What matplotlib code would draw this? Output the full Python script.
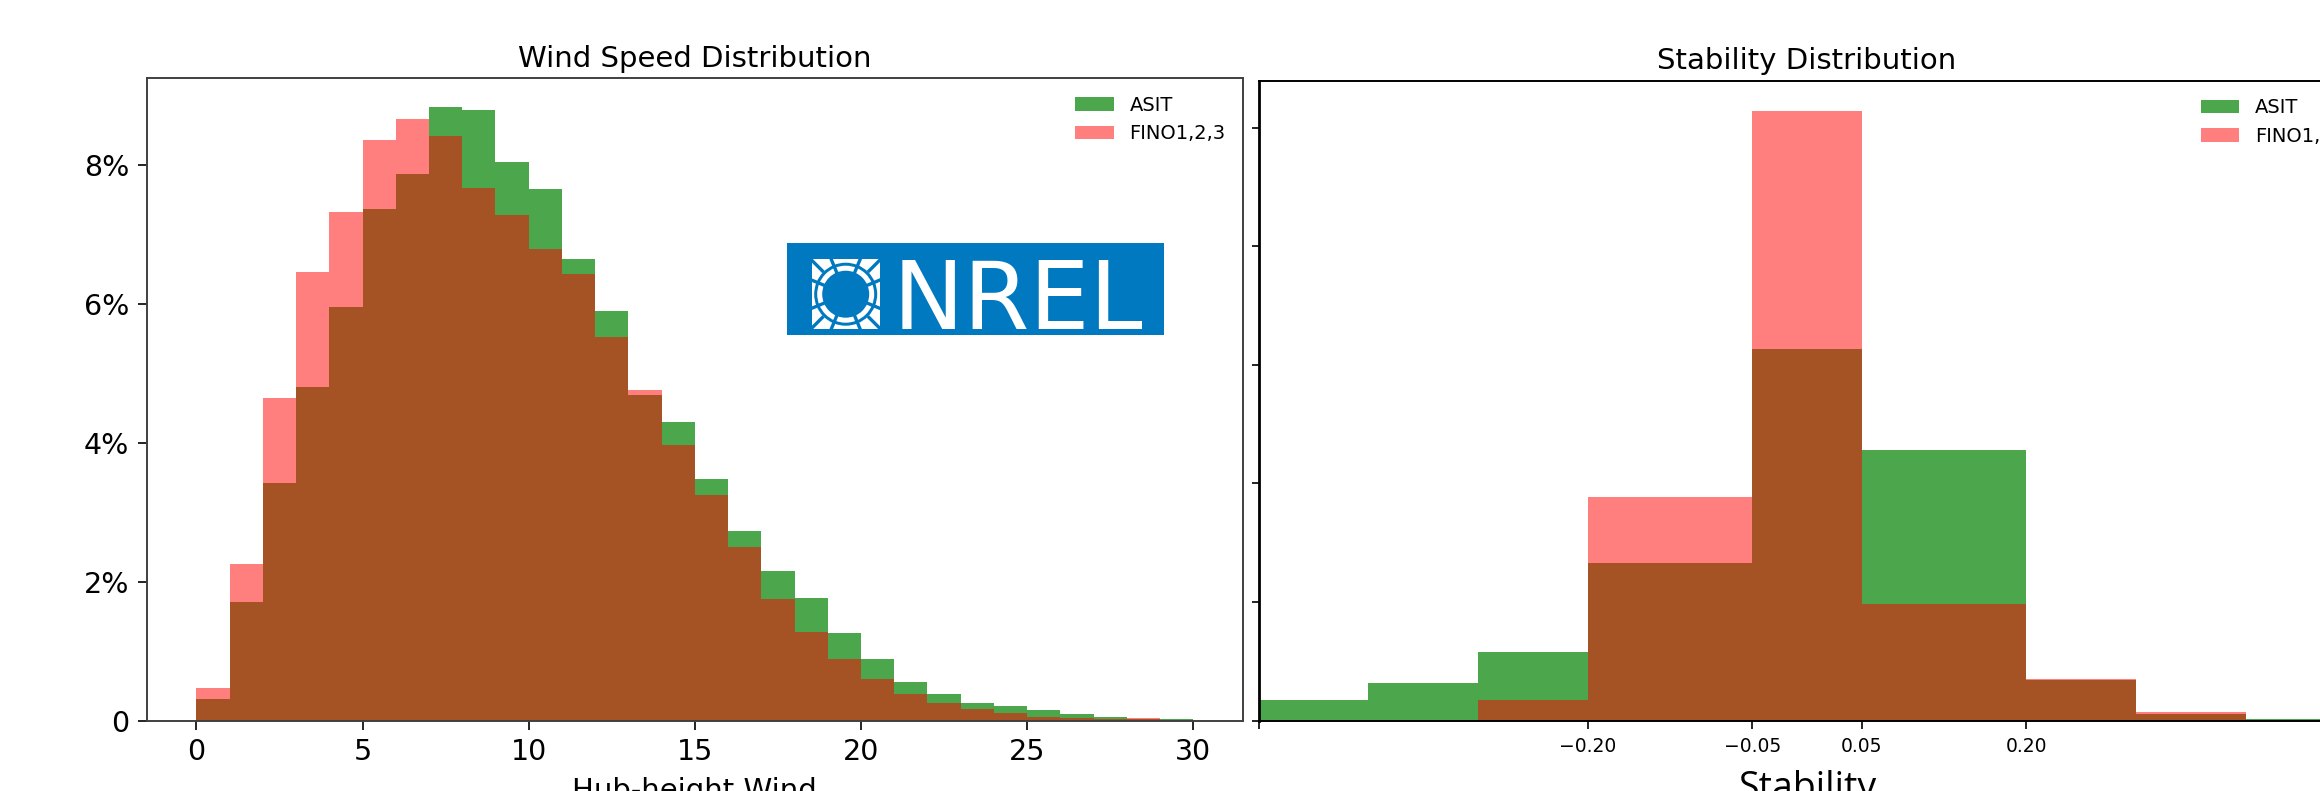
import matplotlib
matplotlib.use('Agg')
import matplotlib.pyplot as plt
import numpy as np
from matplotlib.ticker import FuncFormatter
from matplotlib.patches import Rectangle, Circle

plt.rcParams['font.family'] = ['DejaVu Sans']

#--------------------------------------------------------------------------
# data
#--------------------------------------------------------------------------

# hub-height wind speed, share of records (%) in 1 m/s bins
wind_edges = list(range(0, 31))
asit_wind = [0.318, 1.710, 3.420, 4.811, 5.953, 7.364, 7.875, 8.836, 8.793, 8.037,
             7.651, 6.646, 5.897, 4.693, 4.300, 3.488, 2.733, 2.153, 1.766, 1.261,
             0.892, 0.562, 0.381, 0.256, 0.212, 0.156, 0.094, 0.056, 0.025, 0.025]
fino_wind = [0.468, 2.259, 4.649, 6.459, 7.326, 8.362, 8.668, 8.424, 7.669, 7.282,
             6.789, 6.427, 5.523, 4.768, 3.975, 3.245, 2.502, 1.747, 1.279, 0.892,
             0.605, 0.387, 0.256, 0.168, 0.106, 0.062, 0.037, 0.031, 0.040, 0.010]

# stability, density per bin
stab_edges = [-0.5, -0.4, -0.3, -0.2, -0.05, 0.05, 0.2, 0.3, 0.4, 0.5]
asit_stab = [0.170, 0.315, 0.579, 1.328, 3.129, 2.282, 0.341, 0.059, 0.017]
fino_stab = [0.0, 0.0, 0.170, 1.886, 5.139, 0.983, 0.349, 0.068, 0.0]
stab_ticks = [-0.5, -0.2, -0.05, 0.05, 0.2]
stab_ticklabels = ['', '\u22120.20', '\u22120.05', '0.05', '0.20']

series = [("ASIT", "green", 0.7), ("FINO1,2,3", "red", 0.5)]

#--------------------------------------------------------------------------
# plots
#--------------------------------------------------------------------------

fig = plt.figure(figsize=(23.2, 7.91), dpi=100)

ax1 = fig.add_axes([0.0632, 0.0887, 0.4726, 0.8124])
for (name, col, a), vals in zip(series, [asit_wind, fino_wind]):
    ax1.hist(wind_edges[:-1], bins=wind_edges, weights=vals, color=col, alpha=a, label=name)
ax1.set_ylim(0, 9.25)
ax1.set_yticks([0, 2, 4, 6, 8])
ax1.yaxis.set_major_formatter(FuncFormatter(lambda v, p: '0' if v == 0 else '{:.0f}%'.format(v)))
ax1.set_xticks(range(0, 31, 5))
ax1.tick_params(labelsize=20.5, length=6.5, width=1.2, pad=6)
ax1.set_title("Wind Speed Distribution", fontsize=21, pad=8)
ax1.set_xlabel("Hub-height Wind", fontsize=21, labelpad=8)
ax1.legend(loc='upper right', frameon=False, fontsize=14)
for s in ax1.spines.values():
    s.set_color('#404040')
    s.set_linewidth(1.4)

ax2 = fig.add_axes([0.5425, 0.0891, 0.4728, 0.8089])
for (name, col, a), vals in zip(series, [asit_stab, fino_stab]):
    ax2.hist(stab_edges[:-1], bins=stab_edges, weights=vals, color=col, alpha=a, label=name)
ax2.set_xlim(-0.5, 0.5)
ax2.set_yticks(range(0, 6))
ax2.tick_params(axis='y', labelleft=False, length=5, width=1.2)
ax2.set_xticks(stab_ticks)
ax2.set_xticklabels(stab_ticklabels)
ax2.tick_params(axis='x', labelsize=13.5, length=6, width=1.2, pad=6)
ax2.set_title("Stability Distribution", fontsize=21, pad=8.5)
ax2.set_xlabel("Stability", fontsize=27, family=['Open Sans', 'DejaVu Sans'], labelpad=10)
ax2.legend(loc='upper right', bbox_to_anchor=(1.012, 1.0), frameon=False, fontsize=14)
for s in ax2.spines.values():
    s.set_linewidth(1.4)
ax2.spines['left'].set_linewidth(2)

# NREL logo badge
blue = '#0079C1'
logo = fig.add_axes([787 / 2320, 1 - 335.4 / 791, 377 / 2320, 92.8 / 791])
logo.set_facecolor(blue)
logo.set_xticks([])
logo.set_yticks([])
for s in logo.spines.values():
    s.set_visible(False)
cx, cy = 58.7, 41.2
logo.add_patch(Rectangle((cx - 34, cy - 34.7), 68, 69.4, color='white', lw=0))
logo.add_patch(Circle((cx, cy), 31.5, color=blue, lw=0))
logo.add_patch(Circle((cx, cy), 28.5, color='white', lw=0))
logo.add_patch(Circle((cx, cy), 23.5, color=blue, lw=0))
for k in range(8):
    ang = np.deg2rad(22.5 + 45 * k)
    logo.plot([cx, cx + 50 * np.cos(ang)], [cy, cy + 50 * np.sin(ang)], color=blue, lw=2.4)
for k in range(4):
    ang = np.deg2rad(45 + 90 * k)
    logo.plot([cx + 33 * np.cos(ang), cx + 50 * np.cos(ang)],
              [cy + 33 * np.sin(ang), cy + 50 * np.sin(ang)], color=blue, lw=2.4)
logo.set_xlim(0, 377)
logo.set_ylim(0, 92.8)
logo.text(106, 6.5, "NREL", color='white', fontsize=68.5, family=['DejaVu Sans'],
          ha='left', va='baseline')

fig.savefig("out.png", dpi=100)
